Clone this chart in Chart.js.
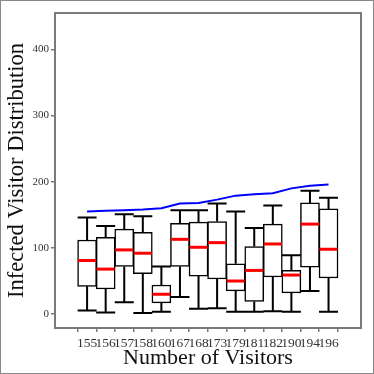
<!DOCTYPE html>
<html>
<head>
<meta charset="utf-8">
<script src="https://cdn.jsdelivr.net/npm/chart.js@4"></script>
<style>
  html, body { margin: 0; padding: 0; background: #fff; }
  #wrap { width: 374px; height: 374px; }
</style>
</head>
<body>
<div id="wrap"><canvas id="chart" width="374" height="374"></canvas></div>
<script>
// ===================== Data =====================
const visitors = ['155', '156', '157', '158', '160', '167', '168', '173', '179', '181', '182', '190', '194', '196'];
const whiskerLow  = [5.5, 2.5, 18, 1.5, 3.5, 26, 8, 9, 3.5, 3.5, 4.5, 3.5, 35, 3.5];
const q1Values    = [42, 38, 72, 61, 17, 72, 57.5, 53, 35, 19, 56, 32, 71, 54.5];
const medians     = [81, 68, 97, 92, 30, 113, 101, 108, 50, 66, 106, 59, 136, 98];
const q3Values    = [112, 116, 128.5, 123.5, 44, 137, 139, 140, 76, 102, 136, 66, 168, 159];
const whiskerHigh = [146, 133, 151, 148, 72, 157, 157, 167, 155, 130, 164, 89, 186.5, 176];
const totalLine   = [155, 156, 157, 158, 160, 167, 168, 173, 179, 181, 182.5, 190, 194, 196];
const yTicks = [0, 100, 200, 300, 400];

const FONT = "'Liberation Serif', 'DejaVu Serif', serif";
const AXIS_GRAY = '#7a7a7a';

// ===================== Box plot pieces =====================
const boxPlugin = {
    id: 'boxParts',
    beforeDatasetsDraw(chart) {
        const { ctx, scales: { x, y } } = chart;
        const half = 9.5;
        ctx.save();
        ctx.strokeStyle = '#000';
        ctx.lineWidth = 2;
        visitors.forEach((_, i) => {
            const px = x.getPixelForValue(i);
            ctx.beginPath();
            ctx.moveTo(px, y.getPixelForValue(whiskerLow[i]));
            ctx.lineTo(px, y.getPixelForValue(q1Values[i]));
            ctx.moveTo(px, y.getPixelForValue(q3Values[i]));
            ctx.lineTo(px, y.getPixelForValue(whiskerHigh[i]));
            ctx.moveTo(px - half, y.getPixelForValue(whiskerLow[i]));
            ctx.lineTo(px + half, y.getPixelForValue(whiskerLow[i]));
            ctx.moveTo(px - half, y.getPixelForValue(whiskerHigh[i]));
            ctx.lineTo(px + half, y.getPixelForValue(whiskerHigh[i]));
            ctx.stroke();
        });
        ctx.restore();
    },
    afterDatasetsDraw(chart) {
        const { ctx, chartArea, scales: { x, y } } = chart;
        const half = 9;
        ctx.save();
        ctx.strokeStyle = '#ff0000';
        ctx.lineWidth = 3;
        visitors.forEach((_, i) => {
            const px = x.getPixelForValue(i);
            const py = y.getPixelForValue(medians[i]);
            ctx.beginPath();
            ctx.moveTo(px - half, py);
            ctx.lineTo(px + half, py);
            ctx.stroke();
        });
        // plot frame
        ctx.strokeStyle = AXIS_GRAY;
        ctx.lineWidth = 2;
        ctx.strokeRect(chartArea.left, chartArea.top, chartArea.right - chartArea.left, chartArea.bottom - chartArea.top);
        // outer border
        ctx.lineWidth = 1;
        ctx.strokeStyle = '#888';
        ctx.strokeRect(0.5, 0.5, chart.width - 1, chart.height - 1);
        ctx.restore();
    }
};

// ===================== Chart =====================
function setupChart() {
    const ctx = document.getElementById('chart').getContext('2d');
    new Chart(ctx, {
        type: 'bar',
        data: {
            datasets: [
                {
                    type: 'line',
                    label: 'visitors',
                    data: totalLine.map((v, i) => ({ x: i, y: v })),
                    borderColor: '#0000ff',
                    borderWidth: 2,
                    pointRadius: 0,
                    tension: 0
                },
                {
                    type: 'bar',
                    label: 'box',
                    data: visitors.map((_, i) => ({ x: i, y: [q1Values[i], q3Values[i]] })),
                    backgroundColor: '#ffffff',
                    borderColor: '#000000',
                    borderWidth: 1.5,
                    borderSkipped: false,
                    barThickness: 19
                }
            ]
        },
        options: {
            responsive: false,
            animation: false,
            layout: { padding: { top: 13, right: 13, left: 0, bottom: 0 } },
            plugins: { legend: { display: false }, tooltip: { enabled: false } },
            scales: {
                x: {
                    type: 'linear',
                    min: -1.14,
                    max: 14.16,
                    afterBuildTicks: (scale) => {
                        scale.ticks = visitors.map((_, i) => ({ value: i }));
                    },
                    afterFit: (scale) => { scale.height = 46; },
                    grid: { drawOnChartArea: false, tickLength: 4, color: AXIS_GRAY, lineWidth: 1.5 },
                    border: { display: false },
                    ticks: {
                        autoSkip: false,
                        maxRotation: 0,
                        padding: 3,
                        color: '#333',
                        font: { family: FONT, size: 13.5 },
                        callback: (v) => visitors[v] ?? ''
                    },
                    title: {
                        display: true,
                        text: 'Number of Visitors',
                        color: '#111',
                        font: { family: FONT, size: 22 },
                        padding: { top: 0, bottom: 3 }
                    }
                },
                y: {
                    min: -21,
                    max: 455,
                    afterBuildTicks: (scale) => {
                        scale.ticks = yTicks.map(v => ({ value: v }));
                    },
                    afterFit: (scale) => { scale.width = 55; },
                    grid: { drawOnChartArea: false, tickLength: 4, color: AXIS_GRAY, lineWidth: 1.5 },
                    border: { display: false },
                    ticks: {
                        padding: 2,
                        color: '#333',
                        font: { family: FONT, size: 11 }
                    },
                    title: {
                        display: true,
                        text: 'Infected Visitor Distribution',
                        color: '#111',
                        font: { family: FONT, size: 22.5 },
                        padding: { top: 4, bottom: 0 }
                    }
                }
            }
        },
        plugins: [boxPlugin]
    });
}

document.addEventListener('DOMContentLoaded', setupChart);
</script>
</body>
</html>
